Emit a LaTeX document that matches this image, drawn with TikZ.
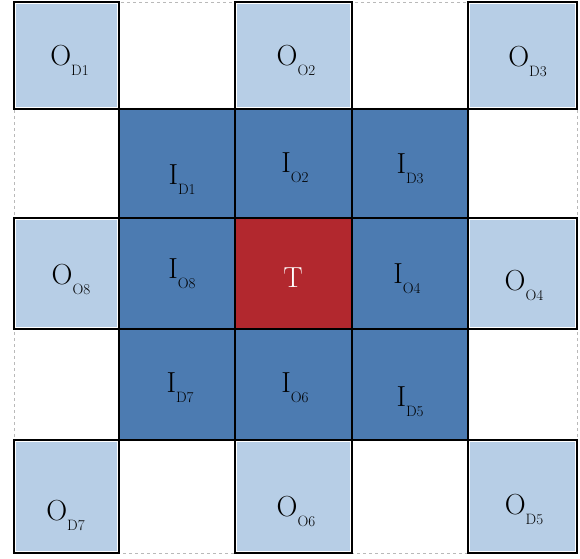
\documentclass[tikz,border=0pt]{standalone}
\definecolor{lightcell}{RGB}{183,206,230}
\definecolor{darkcell}{RGB}{76,123,177}
\definecolor{redcell}{RGB}{178,40,46}
\newcommand\mylab[2]{#1\raisebox{-10pt}{\fontsize{15}{18}\selectfont #2}}
\tikzset{
  lab/.style={anchor=base,inner sep=0pt,font=\fontsize{29}{34}\selectfont},
  obox/.style={draw=black,line width=1.8pt,fill=lightcell},
  icell/.style={fill=darkcell},
  tcell/.style={fill=redcell,draw=redcell!80!black,line width=0.8pt},
  gridln/.style={draw=black,line width=1.2pt},
  outer/.style={draw=gray!55,dashed,line width=0.8pt}
}
\begin{document}
\begin{tikzpicture}[x=1pt,y=-1pt]
\useasboundingbox (0,0) rectangle (580,558);
% outer dashed frame
\draw[outer] (14,2) rectangle (577,553);
% inner 3x3 block
\fill[icell] (119,109) rectangle (468,440);
\filldraw[tcell] (235.8,218.8) rectangle (351.2,328.2);
\foreach \x in {119,235,352,468} \draw[gridln] (\x,109) -- (\x,440);
\foreach \y in {109,218,329,440} \draw[gridln] (119,\y) -- (468,\y);
% outer O boxes
\foreach \xa/\ya/\xb/\yb in {14/2/119/109, 235/2/352/109, 468/2/577/109,
  14/218/119/329, 468/218/577/329,
  14/440/119/553, 235/440/352/553, 468/440/577/553}{
  \fill[white] (\xa,\ya) rectangle (\xb,\yb);
  \fill[lightcell] (\xa+1.8,\ya+1.8) rectangle (\xb-1.8,\yb-1.8);
  \draw[black,line width=1.8pt] (\xa,\ya) rectangle (\xb,\yb);
}
% labels
\node[lab] (OD1) at (69.5,65) {\mylab{O}{D1}};
\node[lab] (OO2) at (296,65) {\mylab{O}{O2}};
\node[lab] (OD3) at (527.5,66) {\mylab{O}{D3}};
\node[lab] (ID1) at (182,184) {\mylab{I}{D1}};
\node[lab] (IO2) at (295,172) {\mylab{I}{O2}};
\node[lab] (ID3) at (410,173) {\mylab{I}{D3}};
\node[lab] (OO8) at (71,284) {\mylab{O}{O8}};
\node[lab] (IO8) at (182,278) {\mylab{I}{O8}};
\node[lab,text=white] (T) at (293,287) {T};
\node[lab] (IO4) at (407,283) {\mylab{I}{O4}};
\node[lab] (OO4) at (524,290) {\mylab{O}{O4}};
\node[lab] (ID7) at (180,392) {\mylab{I}{D7}};
\node[lab] (IO6) at (295,392) {\mylab{I}{O6}};
\node[lab] (ID5) at (410,406) {\mylab{I}{D5}};
\node[lab] (OD7) at (65.5,520) {\mylab{O}{D7}};
\node[lab] (OO6) at (296,516) {\mylab{O}{O6}};
\node[lab] (OD5) at (524,514) {\mylab{O}{D5}};
\end{tikzpicture}
\end{document}
